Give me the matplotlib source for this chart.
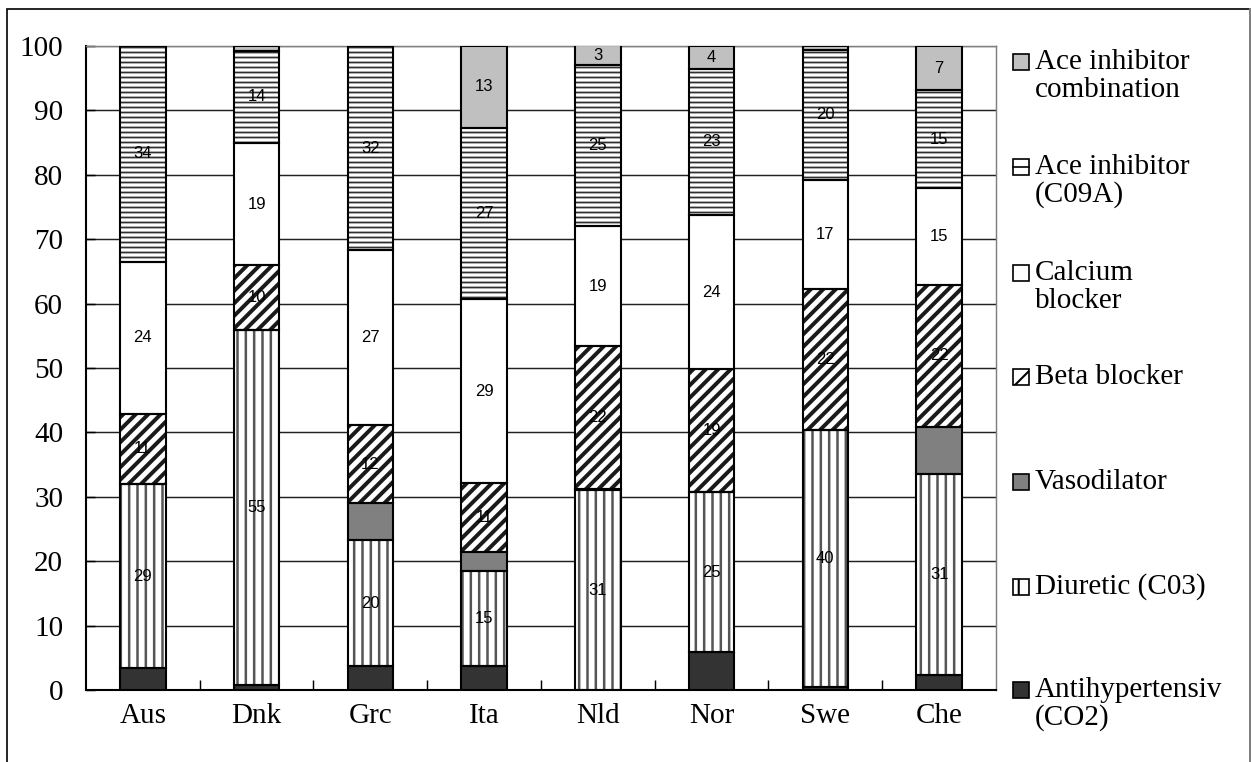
import numpy as np
import matplotlib.pyplot as plt
from matplotlib.patches import Rectangle

plt.rcParams['font.family'] = ['Liberation Serif', 'DejaVu Serif']

countries = ['Aus', 'Dnk', 'Grc', 'Ita', 'Nld', 'Nor', 'Swe', 'Che']

# shares in percent, bottom to top
antihyp = [3.4, 0.8, 3.7, 3.7, 0.0, 5.9, 0.4, 2.3]
diuretic = [28.6, 55.1, 19.6, 14.8, 31.0, 24.8, 40.0, 31.2]
vasodil = [0.0, 0.0, 5.7, 2.9, 0.2, 0.0, 0.0, 7.4]
beta = [10.9, 10.1, 12.1, 10.7, 22.2, 19.1, 21.9, 22.0]
calcium = [23.6, 18.9, 27.2, 28.6, 18.6, 24.0, 16.9, 15.0]
ace = [33.5, 14.4, 31.7, 26.6, 25.0, 22.6, 20.2, 15.2]
ace_comb = [0.0, 0.7, 0.0, 12.7, 3.1, 3.6, 0.6, 6.9]

series = [antihyp, diuretic, vasodil, beta, calcium, ace, ace_comb]
labels = ['Antihypertensiv\n(CO2)', 'Diuretic (C03)', 'Vasodilator', 'Beta blocker',
          'Calcium\nblocker', 'Ace inhibitor\n(C09A)', 'Ace inhibitor\ncombination']
colors = ['#333333', 'white', '#808080', 'white', 'white', 'white', '#c0c0c0']
hatches = [None, '|||', None, '////', None, '-----', None]
hatch_col = ['black', '#555555', 'black', '#1a1a1a', 'black', '#303030', 'black']
hatch_lw = [1, 1.2, 1, 1.9, 1, 0.85, 1]
show_value = [False, True, False, True, True, True, True]

# dpi 150 so that hatch spacing comes close to the original
DPI = 150
W, H = 1252, 762
fig = plt.figure(figsize=(W/DPI, H/DPI), dpi=DPI)
ax = fig.add_axes([86/W, 72/H, 910/W, 644/H])

x = np.arange(len(countries))
bottom = np.zeros(len(countries))
for vals, lab, col, h, hc, hl, show in zip(series, labels, colors, hatches, hatch_col,
                                          hatch_lw, show_value):
    vals = np.array(vals)
    bars = ax.bar(x, vals, 0.4, bottom=bottom, color=col, edgecolor=hc,
                  linewidth=0, hatch=h, zorder=3)
    for b in bars:
        try:
            b.set_hatch_linewidth(hl)
        except AttributeError:
            pass
    # black outline on top of the hatch
    ax.bar(x, vals, 0.4, bottom=bottom, fill=False, edgecolor='black',
           linewidth=1.0, zorder=3.5)
    if show:
        for xi, v, b0 in zip(x, vals, bottom):
            if v >= 2.5:
                ax.text(xi, b0 + v/2, '%.0f' % v, ha='center', va='center',
                        fontsize=8, family='Liberation Sans', zorder=4)
    bottom += vals

ax.set_xlim(-0.5, 7.5)
ax.set_ylim(0, 100)
ax.set_yticks(range(0, 101, 10))
ax.set_xticks(x)
ax.set_xticklabels(countries)
ax.set_xticks(x[:-1] + 0.5, minor=True)
ax.tick_params(axis='x', which='major', length=0, pad=6.4, labelsize=14)
ax.tick_params(axis='x', which='minor', direction='in', length=4.8, width=0.7)
ax.tick_params(axis='y', direction='in', length=4.3, width=0.7, pad=11, labelsize=14)
ax.grid(axis='y', color='#202020', linewidth=0.7, zorder=0)
ax.get_ygridlines()[-1].set_color('#808080')
for s in ['top', 'right']:
    ax.spines[s].set_color('#808080')
    ax.spines[s].set_linewidth(0.7)
for s in ['left', 'bottom']:
    ax.spines[s].set_linewidth(1.0)

# legend drawn by hand, Excel style
first_line_y = [62, 167, 273, 377, 482, 587, 690]
leg_hatch = [None, None, None, '//', None, '||', None]
for lab, col, h, yl in zip(labels[::-1], colors[::-1], leg_hatch, first_line_y):
    r = Rectangle((1013/W, 1 - (yl + 8)/H), 16/W, 16/H, transform=fig.transFigure,
                  facecolor=col, edgecolor='black', linewidth=0.8, hatch=h)
    fig.add_artist(r)
    if lab.startswith('Ace inhibitor\n('):
        # single middle line like the Excel key
        fig.add_artist(plt.Line2D([1013/W, 1029/W], [1 - yl/H, 1 - yl/H],
                                  transform=fig.transFigure, color='black', lw=0.8))
    for i, line in enumerate(lab.split('\n')):
        fig.text(1035/W, 1 - (yl + i*28)/H, line, fontsize=14, va='center', ha='left')

# outer frame
fig.add_artist(Rectangle((7/W, -0.01), 1244/W, 1 - 9/H + 0.01, transform=fig.transFigure,
                         fill=False, edgecolor='black', linewidth=0.8))
fig.add_artist(Rectangle((1250/W, -0.01), 0, 1, transform=fig.transFigure,
                         fill=False, edgecolor='#808080', linewidth=0.8))

plt.savefig('out.png', dpi=DPI)
